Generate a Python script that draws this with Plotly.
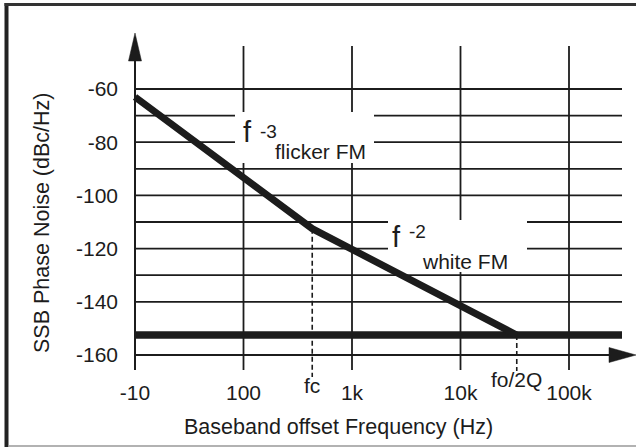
import numpy as np
import plotly.graph_objects as go

# ---------------- data ----------------
x_tick_vals = [10, 100, 1000, 10000, 100000]
x_tick_text = ["-10", "100", "1k", "10k", "100k"]
y_tick_vals = [-60, -80, -100, -120, -140, -160]
y_tick_text = ["-60", "-80", "-100", "-120", "-140", "-160"]
y_grid_vals = [-60, -70, -80, -90, -100, -110, -120, -130, -140]
x_grid_vals = [100, 1000, 10000, 100000]
fc = 430
fo_2q = 33000
noise_freq = [10, fc, fo_2q]
noise_dbc = [-63, -112.5, -152.5]
floor_dbc = -152.5

# ---------------- layout geometry (pixels) ----------------
W, H = 636, 447
L, R, T, B = 125, 636, 20, 378
X0_PX, PX_PER_DEC = 135, 108.5     # where 10 Hz sits, pixels per decade
Y0_PX, PX_PER_DB = 355, 2.66       # where -160 dB sits, pixels per dB

x_range = [1 - (X0_PX - L) / PX_PER_DEC, 1 + (R - X0_PX) / PX_PER_DEC]
y_range = [-160 - (B - Y0_PX) / PX_PER_DB, -160 + (Y0_PX - T) / PX_PER_DB]


def px2x(px):
    return 10 ** (1 + (px - X0_PX) / PX_PER_DEC)


def py2y(py):
    return -160 + (Y0_PX - py) / PX_PER_DB


def xp(px):
    return (px - L) / (R - L)


def yp(py):
    return (B - py) / (B - T)


INK = "#1c1c1c"
FONT = "Liberation Sans, Arial, sans-serif"

fig = go.Figure()

# ---- grid lines (with gaps for the labels) ----
x_left, x_right = 10, px2x(622)
gap_a = (px2x(235), px2x(374))
gap_b = (px2x(388), px2x(527))
h_gaps = {-70: gap_a, -80: gap_a, -110: gap_b, -120: gap_b}
gx, gy = [], []
for yv in y_grid_vals:
    if yv in h_gaps:
        g0, g1 = h_gaps[yv]
        gx += [x_left, g0, None, g1, x_right, None]
        gy += [yv, yv, None, yv, yv, None]
    else:
        gx += [x_left, x_right, None]
        gy += [yv, yv, None]

y_top, y_bot = py2y(46), py2y(370)
v_gaps = {100: (py2y(112), py2y(163)), 1000: (py2y(112), py2y(163)),
          10000: (py2y(220), py2y(272))}
for xv in x_grid_vals:
    if xv in v_gaps:
        g0, g1 = v_gaps[xv]
        gx += [xv, xv, None, xv, xv, None]
        gy += [y_top, g0, None, g1, y_bot, None]
    else:
        gx += [xv, xv, None]
        gy += [y_top, y_bot, None]

fig.add_trace(go.Scatter(x=gx, y=gy, mode="lines",
                         line=dict(color=INK, width=1.8), hoverinfo="skip"))

# ---- axes lines ----
fig.add_trace(go.Scatter(x=[10, 10, None, 10, px2x(612)],
                         y=[py2y(58), py2y(370), None, -160, -160],
                         mode="lines", line=dict(color=INK, width=2),
                         hoverinfo="skip"))
# arrow heads
fig.add_trace(go.Scatter(x=[10, px2x(128.5), px2x(141.5), 10],
                         y=[py2y(33), py2y(61), py2y(61), py2y(33)],
                         mode="lines", fill="toself", fillcolor=INK,
                         line=dict(color=INK, width=0.5), hoverinfo="skip"))
fig.add_trace(go.Scatter(x=[px2x(636), px2x(609), px2x(609), px2x(636)],
                         y=[-160, py2y(347.5), py2y(362.5), -160],
                         mode="lines", fill="toself", fillcolor=INK,
                         line=dict(color=INK, width=0.5), hoverinfo="skip"))

# ---- dashed markers ----
fig.add_trace(go.Scatter(x=[fc, fc, None, fo_2q, fo_2q],
                         y=[noise_dbc[1], py2y(377), None, floor_dbc, py2y(371)],
                         mode="lines", line=dict(color=INK, width=1.6, dash="5px,3px"),
                         hoverinfo="skip"))

# ---- noise floor and phase noise curve ----
fig.add_trace(go.Scatter(x=[10, x_right], y=[floor_dbc, floor_dbc], mode="lines",
                         line=dict(color=INK, width=7.5), hoverinfo="skip"))
fig.add_trace(go.Scatter(x=noise_freq, y=noise_dbc, mode="lines",
                         line=dict(color=INK, width=7), hoverinfo="skip"))

# ---- frame ----
fig.add_shape(type="line", xref="paper", yref="paper", x0=xp(6.5), x1=xp(6.5),
              y0=yp(3), y1=yp(447), line=dict(color="#222222", width=4))
fig.add_shape(type="line", xref="paper", yref="paper", x0=xp(4.5), x1=xp(636),
              y0=yp(4.5), y1=yp(4.5), line=dict(color="#333333", width=3))
fig.add_shape(type="line", xref="paper", yref="paper", x0=xp(8), x1=xp(636),
              y0=yp(446), y1=yp(446), line=dict(color="#999999", width=1.5))

# ---- text labels ----
def ann(text, x, y, size, xref="paper", yref="paper", angle=0):
    fig.add_annotation(text=text, x=x, y=y, xref=xref, yref=yref,
                       xanchor="center", yanchor="middle", showarrow=False,
                       textangle=angle,
                       font=dict(family=FONT, size=size, color=INK))

ann("f", xp(247.5), yp(132), 29)
ann("-3", xp(268), yp(131), 19)
ann("flicker FM", xp(320), yp(151), 21)
ann("f", xp(396.5), yp(237), 29)
ann("-2", xp(417), yp(232), 19)
ann("white FM", xp(465), yp(261), 21)
ann("fc", np.log10(fc), yp(385), 21, xref="x")
ann("fo/2Q", np.log10(fo_2q), yp(379), 21, xref="x")

# axis titles
ann("Baseband offset Frequency (Hz)", xp(338), yp(427), 21.5)
ann("SSB Phase Noise (dBc/Hz)", xp(42), yp(223), 21.5, angle=-90)

fig.update_layout(
    width=W, height=H,
    margin=dict(l=L, r=W - R, t=T, b=H - B, pad=0),
    paper_bgcolor="white", plot_bgcolor="white",
    showlegend=False,
    font=dict(family=FONT, color=INK),
    xaxis=dict(type="log", range=x_range, showgrid=False, zeroline=False,
               showline=False, ticks="", tickvals=x_tick_vals, ticktext=x_tick_text,
               tickfont=dict(size=21, color=INK), ticklabelstandoff=0,
               automargin=False, fixedrange=True),
    yaxis=dict(range=y_range, showgrid=False, zeroline=False, showline=False,
               ticks="", tickvals=y_tick_vals, ticktext=y_tick_text,
               tickfont=dict(size=21, color=INK), ticklabelstandoff=6,
               automargin=False, fixedrange=True),
)

fig.write_html("out.html", config={"displayModeBar": False})
